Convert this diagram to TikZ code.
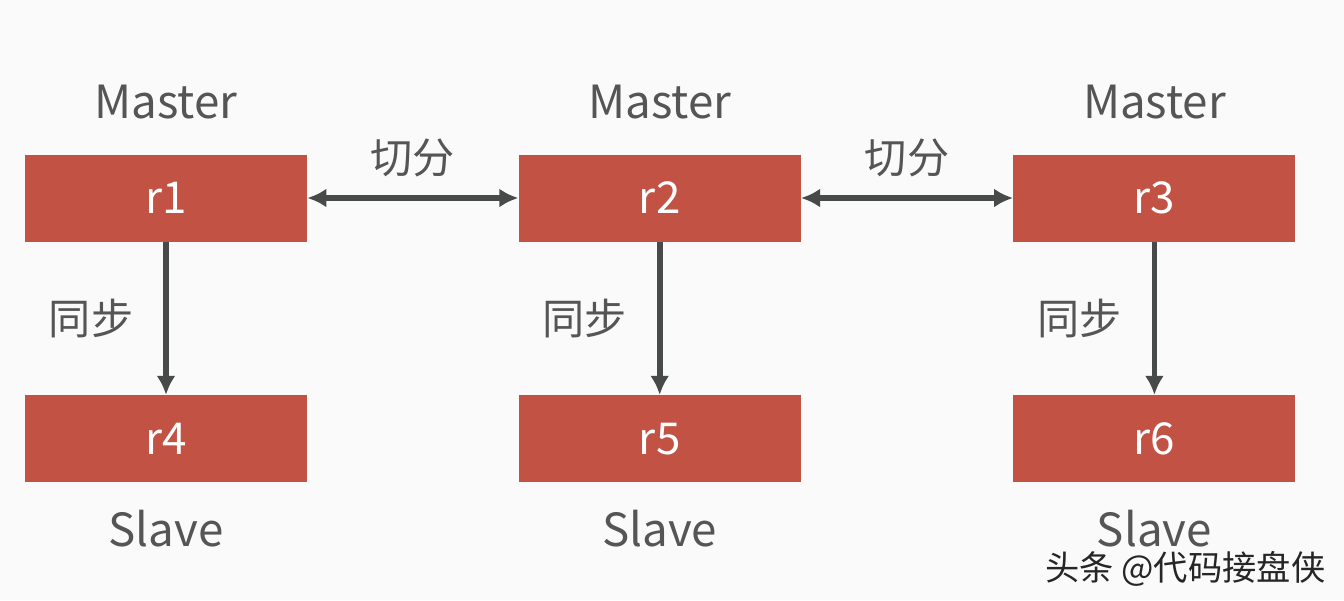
\documentclass[tikz,border=0pt]{standalone}
\usepackage{fontspec}
\setmainfont{Noto Sans CJK SC}
\usepackage{tikz}
\usetikzlibrary{arrows,arrows.meta,positioning,calc}
\definecolor{boxred}{RGB}{194,82,68}
\definecolor{textgray}{RGB}{85,85,85}
\definecolor{arrowgray}{RGB}{72,74,74}
\definecolor{bggray}{RGB}{250,250,250}
\tikzstyle{block} = [rectangle, minimum width=5.64cm, minimum height=1.74cm,
    fill=boxred, text=white, font=\fontsize{25}{30}\selectfont, inner sep=0pt]
\tikzstyle{role} = [text=textgray, font=\fontsize{26}{31}\selectfont, inner sep=0pt]
\tikzstyle{tag} = [text=textgray, font=\fontsize{24}{29}\selectfont, inner sep=0pt]
\tikzstyle{arrow} = [line width=3.2pt, draw=arrowgray, -{Latex[length=0.38cm,width=0.38cm]}]
\tikzstyle{biarrow} = [line width=3.2pt, draw=arrowgray, {Latex[length=0.38cm,width=0.38cm]}-{Latex[length=0.38cm,width=0.38cm]}]

\begin{document}
\begin{tikzpicture}[node distance=4.22cm and 3.06cm]
\fill[bggray] (0,0) rectangle (26.88,-12);
\useasboundingbox (0,0) rectangle (26.88,-12);
% Masters
\node[block] (r1) at (3.32,-3.96) {r1};
\node[block, right=4.22cm of r1] (r2) {r2};
\node[block, right=4.24cm of r2] (r3) {r3};
% Slaves
\node[block, below=3.06cm of r1] (r4) {r4};
\node[block, below=3.06cm of r2] (r5) {r5};
\node[block, below=3.06cm of r3] (r6) {r6};
% Labels
\node[role, above=0.7cm of r1] (m1) {Master};
\node[role, above=0.7cm of r2] (m2) {Master};
\node[role, above=0.7cm of r3] (m3) {Master};
\node[role, below=0.55cm of r4] (s1) {Slave};
\node[role, below=0.55cm of r5] (s2) {Slave};
\node[role, below=0.55cm of r6] (s3) {Slave};
% Arrows
\draw[biarrow] (r1) -- node[tag, above=0.36cm] (cut1) {切分} (r2);
\draw[biarrow] (r2) -- node[tag, above=0.36cm] (cut2) {切分} (r3);
\draw[arrow] (r1) -- node[tag, left=0.6cm] (sync1) {同步} (r4);
\draw[arrow] (r2) -- node[tag, left=0.6cm] (sync2) {同步} (r5);
\draw[arrow] (r3) -- node[tag, left=0.6cm] (sync3) {同步} (r6);
% Watermark
\node[font=\fontsize{19.5}{23}\selectfont, anchor=north west, inner sep=0pt, text=black!85] (mark) at (20.9,-11.02) {头条 @代码接盘侠};
\end{tikzpicture}
\end{document}
